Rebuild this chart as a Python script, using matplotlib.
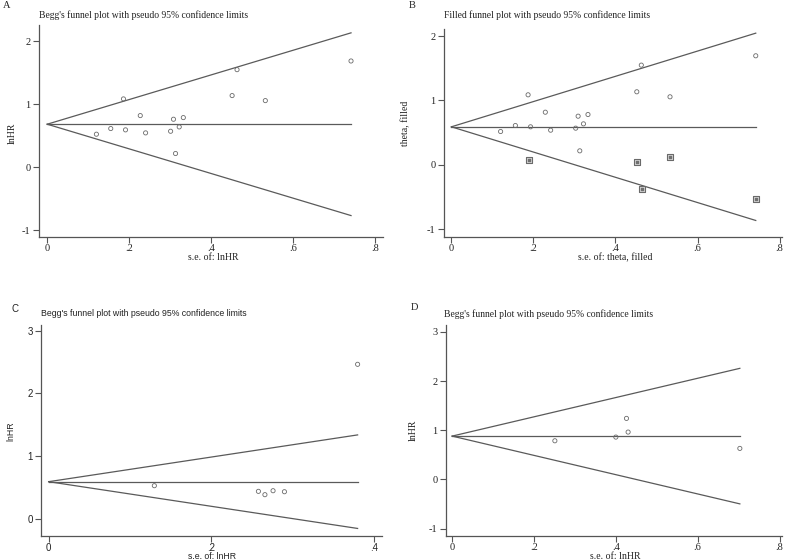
import numpy as np
import matplotlib
matplotlib.use("Agg")
import matplotlib.pyplot as plt

# panel A: Begg's funnel, lnHR vs se
a_se = [0.120, 0.155, 0.191, 0.186, 0.227, 0.240, 0.301, 0.308, 0.313, 0.322, 0.332, 0.451, 0.463, 0.532, 0.741]
a_lnhr = [0.524, 0.614, 0.593, 1.085, 0.820, 0.545, 0.571, 0.762, 0.217, 0.640, 0.788, 1.138, 1.550, 1.058, 1.688]
a_center = 0.683

# panel B: filled funnel (observed + imputed studies)
b_se = [0.120, 0.156, 0.193, 0.187, 0.229, 0.242, 0.303, 0.309, 0.313, 0.322, 0.333, 0.452, 0.463, 0.533, 0.742]
b_theta = [0.518, 0.611, 0.591, 1.088, 0.818, 0.539, 0.570, 0.756, 0.218, 0.637, 0.782, 1.135, 1.549, 1.057, 1.694]
b_fill_se = [0.188, 0.453, 0.464, 0.533, 0.743]
b_fill_theta = [0.083, 0.041, -0.378, 0.119, -0.523]
b_center = 0.591

# panel C
c_se = [0.130, 0.258, 0.266, 0.276, 0.290, 0.380]
c_lnhr = [0.531, 0.441, 0.388, 0.451, 0.435, 2.464]
c_center = 0.595

# panel D
d_se = [0.251, 0.400, 0.426, 0.430, 0.703]
d_lnhr = [0.786, 0.861, 1.241, 0.963, 0.631]
d_center = 0.881

W, H = 790, 560
fig = plt.figure(figsize=(W / 100, H / 100), dpi=100)

serif = ["Liberation Serif", "DejaVu Serif"]
sans = ["Liberation Sans", "DejaVu Sans"]
line_c = "#5a5a5a"
pt_c = "#6a6a6a"


def ptext(x, y, s, fam, size=7, **kw):
    fig.text(x / W, 1 - y / H, s, family=fam, fontsize=size, color="#222222", **kw)


def make_axes(box, xlim, ylim, xticks, xlabels, yticks, fam, tsize=7.5):
    l, t, r, b = box
    ax = fig.add_axes([l / W, 1 - b / H, (r - l) / W, (b - t) / H])
    ax.set_xlim(*xlim)
    ax.set_ylim(*ylim)
    for s in ["top", "right"]:
        ax.spines[s].set_visible(False)
    for s in ["left", "bottom"]:
        ax.spines[s].set_color("#555555")
        ax.spines[s].set_linewidth(0.9)
    ax.set_xticks(xticks)
    ax.set_xticklabels(xlabels)
    ax.set_yticks(yticks)
    ax.set_yticklabels([str(v) for v in yticks])
    ax.tick_params(direction="out", length=4, width=0.8, color="#555555",
                   labelsize=tsize, labelcolor="#222222", pad=2)
    ax.tick_params(axis="x", pad=1)
    for lab in ax.get_xticklabels() + ax.get_yticklabels():
        lab.set_family(fam)
    return ax


def funnel(ax, center, se_max):
    se = np.array([0.0, se_max])
    ax.plot(se, [center, center], color=line_c, lw=0.9)
    ax.plot(se, center + 1.96 * se, color=line_c, lw=0.9)
    ax.plot(se, center - 1.96 * se, color=line_c, lw=0.9)


xt8 = [0, 0.2, 0.4, 0.6, 0.8]
xl8 = ["0", ".2", ".4", ".6", ".8"]

# A
ax = make_axes((39, 25, 383, 237), (-0.02, 0.819), (-1.11, 2.26), xt8, xl8, [-1, 0, 1, 2], serif)
funnel(ax, a_center, max(a_se))
ax.scatter(a_se, a_lnhr, s=9, facecolors="none", edgecolors=pt_c, linewidths=0.6, zorder=3)
ptext(3, 6, "A", serif, 7.5, va="center")
ptext(39, 15, "Begg's funnel plot with pseudo 95% confidence limits", serif, 6.9, va="center")
ptext(213, 258, "s.e. of: lnHR", serif, ha="center", va="center")
ptext(12, 133, "lnHR", serif, ha="center", va="center", rotation=90)

# B
ax = make_axes((444, 29, 782, 237), (-0.018, 0.806), (-1.12, 2.11), xt8, xl8, [-1, 0, 1, 2], serif)
funnel(ax, b_center, max(b_se))
ax.scatter(b_se, b_theta, s=9, facecolors="none", edgecolors=pt_c, linewidths=0.6, zorder=3)
ax.scatter(b_fill_se, b_fill_theta, s=16, marker="s", facecolors="#d8d8d8",
           edgecolors=pt_c, linewidths=0.8, zorder=3)
ax.scatter(b_fill_se, b_fill_theta, s=3, marker="s", color="#707070", zorder=4)
ptext(409, 6, "B", serif, 7.5, va="center")
ptext(444, 15, "Filled funnel plot with pseudo 95% confidence limits", serif, 6.9, va="center")
ptext(615, 258, "s.e. of: theta, filled", serif, ha="center", va="center")
ptext(406, 123, "theta, filled", serif, ha="center", va="center", rotation=90)

# C
ax = make_axes((41, 325, 382, 536), (-0.0094, 0.41), (-0.27, 3.09),
               [0, 0.2, 0.4], ["0", ".2", ".4"], [0, 1, 2, 3], sans, 7)
funnel(ax, c_center, max(c_se))
ax.scatter(c_se, c_lnhr, s=9, facecolors="none", edgecolors=pt_c, linewidths=0.6, zorder=3)
ptext(11, 309, "C", sans, 7, va="center")
ptext(41, 314, "Begg's funnel plot with pseudo 95% confidence limits", sans, 6.3, va="center")
ptext(212, 559, "s.e. of: lnHR", sans, 6.3, ha="center", va="baseline")
ptext(11, 431, "lnHR", sans, 6.3, ha="center", va="center", rotation=90)

# D
ax = make_axes((446, 325, 782, 536), (-0.015, 0.806), (-1.15, 3.14), xt8, xl8, [-1, 0, 1, 2, 3], serif)
funnel(ax, d_center, max(d_se))
ax.scatter(d_se, d_lnhr, s=9, facecolors="none", edgecolors=pt_c, linewidths=0.6, zorder=3)
ptext(411, 308, "D", serif, 7.5, va="center")
ptext(444, 314, "Begg's funnel plot with pseudo 95% confidence limits", serif, 6.9, va="center")
ptext(615, 559, "s.e. of: lnHR", serif, ha="center", va="baseline")
ptext(413, 430, "lnHR", serif, ha="center", va="center", rotation=90)

fig.savefig("out.png", dpi=100)
